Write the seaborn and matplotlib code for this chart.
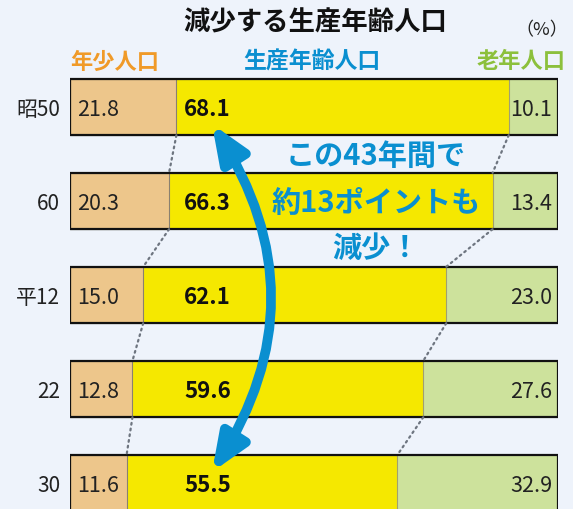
import numpy as np
import matplotlib
matplotlib.use("Agg")
import matplotlib.pyplot as plt
from matplotlib.patches import FancyArrowPatch
import seaborn as sns

# Data
years = ["昭50", "60", "平12", "22", "30"]
young = [21.8, 20.3, 15.0, 12.8, 11.6]
working = [68.1, 66.3, 62.1, 59.6, 55.5]
old = [10.1, 13.4, 23.0, 27.6, 32.9]

W, H = 573, 510
BG = "#eef3fb"
C_YOUNG = "#edc68b"
C_WORK = "#f5e800"
C_OLD = "#cde29c"
BLUE = "#0a8fd0"

sns.set_style("white")
plt.rcParams["font.family"] = ["Noto Sans CJK JP", "DejaVu Sans"]

fig = plt.figure(figsize=(W / 100, H / 100), dpi=100, facecolor=BG)
ax = fig.add_axes([70 / W, 0, 488 / W, 1])
ax.set_facecolor(BG)

young = np.array(young)
working = np.array(working)
old = np.array(old)
b1 = young
b2 = young + working
tot = young + working + old

# stacked bars by overlaying cumulative sums
sns.barplot(x=tot, y=years, orient="h", color=C_OLD, width=0.6,
            saturation=1, edgecolor="none", ax=ax)
sns.barplot(x=b2, y=years, orient="h", color=C_WORK, width=0.6,
            saturation=1, edgecolor="#a0a070", linewidth=0.8, ax=ax)
sns.barplot(x=b1, y=years, orient="h", color=C_YOUNG, width=0.6,
            saturation=1, edgecolor="#8a8070", linewidth=0.8, ax=ax)
sns.barplot(x=tot, y=years, orient="h", color="#111111", fill=False,
            saturation=1, width=0.6, linewidth=1.6, ax=ax)

# dotted connectors between rows
for i in range(len(years) - 1):
    for b in (b1, b2):
        ax.plot([b[i], b[i + 1]], [i + 0.3, i + 0.7], color="#6e7580",
                lw=1.6, ls=(0, (0.8, 1.8)), dash_capstyle="round",
                solid_capstyle="round")

# value labels
for i in range(len(years)):
    ax.text(1.4, i + 0.02, f"{young[i]:.1f}", ha="left", va="center",
            fontsize=15.5, color="#222222")
    ax.text(23.4, i + 0.02, f"{working[i]:.1f}", ha="left", va="center",
            fontsize=16, fontweight="bold", color="#111111")
    ax.text(98.8, i + 0.02, f"{old[i]:.1f}", ha="right", va="center",
            fontsize=15.5, color="#222222")

ax.set_xlim(0, 100)
ax.set_ylim((510 - 108) / 94, -108 / 94)
ax.set_xlabel("")
ax.set_ylabel("")
ax.set_xticks([])
ax.tick_params(axis="y", length=0, pad=7, labelsize=15, labelcolor="#222222")
for s in ax.spines.values():
    s.set_visible(False)


def px(x, y):
    return (x / W, 1 - y / H)


# title and headers
fig.text(*px(315, 23), "減少する生産年齢人口", ha="center", va="center",
         fontsize=19, fontweight="bold", color="#111111")
fig.text(*px(542, 30), "（%）", ha="center", va="center", fontsize=13,
         color="#222222")
fig.text(*px(115, 62), "年少人口", ha="center", va="center", fontsize=16,
         fontweight="bold", color="#f09a28")
fig.text(*px(312, 62), "生産年齢人口", ha="center", va="center", fontsize=16.5,
         fontweight="bold", color=BLUE)
fig.text(*px(521, 62), "老年人口", ha="center", va="center", fontsize=16,
         fontweight="bold", color="#8cc03c")

# annotation
for txt, y in [("この43年間で", 156), ("約13ポイントも", 203), ("減少！", 248)]:
    fig.text(*px(376, y), txt, ha="center", va="center", fontsize=21,
             fontweight="bold", color=BLUE)

arrow = FancyArrowPatch(px(212, 125), px(212, 473), transform=fig.transFigure,
                        connectionstyle="arc3,rad=-0.32",
                        arrowstyle="<|-|>,head_length=22,head_width=9",
                        mutation_scale=1, lw=7, color=BLUE,
                        shrinkA=0, shrinkB=0)
fig.patches.append(arrow)

fig.savefig("out.png", dpi=100, facecolor=BG)
